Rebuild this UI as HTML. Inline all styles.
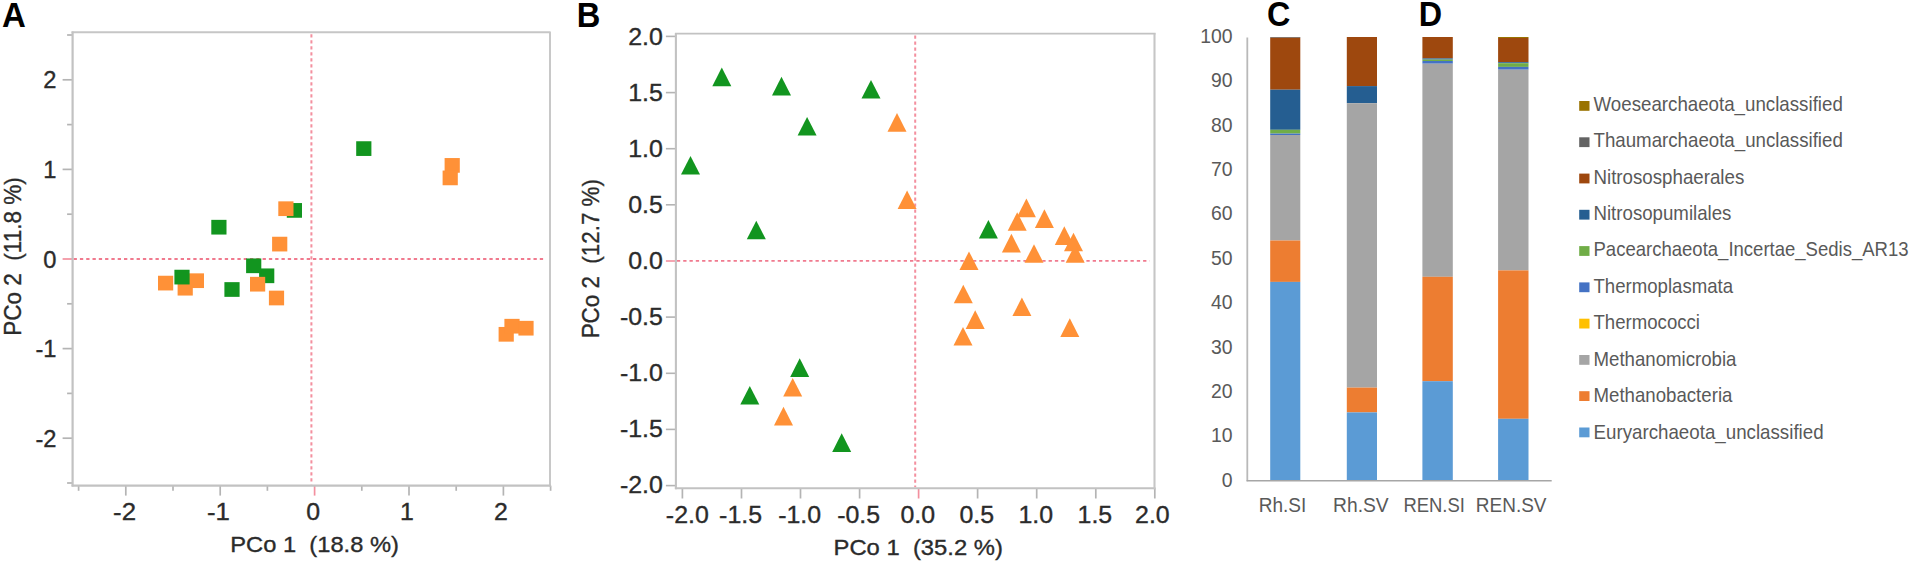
<!DOCTYPE html>
<html lang="en">
<head>
<meta charset="utf-8">
<title>PCoA and archaeal community composition</title>
<style>
html,body{margin:0;padding:0;background:#fff;}
body{width:1914px;height:563px;overflow:hidden;}
svg{display:block;font-family:'Liberation Sans', sans-serif;}
text{white-space:pre;}
</style>
</head>
<body>
<svg width="1914" height="563" viewBox="0 0 1914 563">
<rect width="1914" height="563" fill="#ffffff"/>
<text x="0" y="0" transform="translate(1.9 26.5) scale(0.96 1)" font-size="34.4" fill="#000" text-anchor="start" font-weight="bold">A</text>
<text x="0" y="0" transform="translate(576.7 26.6) scale(0.95 1)" font-size="34.4" fill="#000" text-anchor="start" font-weight="bold">B</text>
<text x="0" y="0" transform="translate(1266.9 26.0) scale(0.94 1)" font-size="34.4" fill="#000" text-anchor="start" font-weight="bold">C</text>
<text x="0" y="0" transform="translate(1418.8 26.0) scale(0.94 1)" font-size="34.4" fill="#000" text-anchor="start" font-weight="bold">D</text>
<line x1="78.6" y1="485.6" x2="78.6" y2="490.8" stroke="#b4b4b4" stroke-width="1.7"/>
<line x1="67.1" y1="483.0" x2="72.6" y2="483.0" stroke="#b4b4b4" stroke-width="1.7"/>
<line x1="125.8" y1="485.6" x2="125.8" y2="495.6" stroke="#b4b4b4" stroke-width="1.7"/>
<line x1="62.6" y1="438.2" x2="72.6" y2="438.2" stroke="#b4b4b4" stroke-width="1.7"/>
<line x1="173.0" y1="485.6" x2="173.0" y2="490.8" stroke="#b4b4b4" stroke-width="1.7"/>
<line x1="67.1" y1="393.4" x2="72.6" y2="393.4" stroke="#b4b4b4" stroke-width="1.7"/>
<line x1="220.2" y1="485.6" x2="220.2" y2="495.6" stroke="#b4b4b4" stroke-width="1.7"/>
<line x1="62.6" y1="348.6" x2="72.6" y2="348.6" stroke="#b4b4b4" stroke-width="1.7"/>
<line x1="267.4" y1="485.6" x2="267.4" y2="490.8" stroke="#b4b4b4" stroke-width="1.7"/>
<line x1="67.1" y1="303.8" x2="72.6" y2="303.8" stroke="#b4b4b4" stroke-width="1.7"/>
<line x1="314.6" y1="485.6" x2="314.6" y2="495.6" stroke="#f3909f" stroke-width="1.7"/>
<line x1="62.6" y1="259.0" x2="72.6" y2="259.0" stroke="#f3909f" stroke-width="1.7"/>
<line x1="361.8" y1="485.6" x2="361.8" y2="490.8" stroke="#b4b4b4" stroke-width="1.7"/>
<line x1="67.1" y1="214.2" x2="72.6" y2="214.2" stroke="#b4b4b4" stroke-width="1.7"/>
<line x1="409.0" y1="485.6" x2="409.0" y2="495.6" stroke="#b4b4b4" stroke-width="1.7"/>
<line x1="62.6" y1="169.4" x2="72.6" y2="169.4" stroke="#b4b4b4" stroke-width="1.7"/>
<line x1="456.2" y1="485.6" x2="456.2" y2="490.8" stroke="#b4b4b4" stroke-width="1.7"/>
<line x1="67.1" y1="124.6" x2="72.6" y2="124.6" stroke="#b4b4b4" stroke-width="1.7"/>
<line x1="503.4" y1="485.6" x2="503.4" y2="495.6" stroke="#b4b4b4" stroke-width="1.7"/>
<line x1="62.6" y1="79.8" x2="72.6" y2="79.8" stroke="#b4b4b4" stroke-width="1.7"/>
<line x1="550.6" y1="485.6" x2="550.6" y2="490.8" stroke="#b4b4b4" stroke-width="1.7"/>
<line x1="67.1" y1="35.0" x2="72.6" y2="35.0" stroke="#b4b4b4" stroke-width="1.7"/>
<line x1="311.4" y1="34.3" x2="311.4" y2="484.6" stroke="#f3909f" stroke-width="2" stroke-dasharray="3.1 2.9"/>
<line x1="73.6" y1="259.0" x2="545.5" y2="259.0" stroke="#f07a8e" stroke-width="1.8" stroke-dasharray="3.3 3"/>
<polyline points="71.6,32.3 550.0,32.3 550.0,486.6" fill="none" stroke="#c6c6c6" stroke-width="1.9" stroke-linejoin="round"/>
<line x1="72.6" y1="31.4" x2="72.6" y2="486.6" stroke="#c2c2c2" stroke-width="2.2"/>
<line x1="71.6" y1="485.6" x2="550.9" y2="485.6" stroke="#c2c2c2" stroke-width="2.1"/>
<rect x="356.20" y="141.25" width="15.2" height="14.7" fill="#12951f"/>
<rect x="286.80" y="203.05" width="15.2" height="14.7" fill="#12951f"/>
<rect x="278.30" y="201.35" width="15.2" height="14.7" fill="#ff9137"/>
<rect x="211.30" y="219.85" width="15.2" height="14.7" fill="#12951f"/>
<rect x="272.10" y="236.75" width="15.2" height="14.7" fill="#ff9137"/>
<rect x="259.10" y="268.45" width="15.2" height="14.7" fill="#12951f"/>
<rect x="246.10" y="258.45" width="15.2" height="14.7" fill="#12951f"/>
<rect x="250.00" y="276.85" width="15.2" height="14.7" fill="#ff9137"/>
<rect x="177.60" y="280.85" width="15.2" height="14.7" fill="#ff9137"/>
<rect x="158.00" y="275.75" width="15.2" height="14.7" fill="#ff9137"/>
<rect x="188.80" y="273.35" width="15.2" height="14.7" fill="#ff9137"/>
<rect x="174.40" y="269.75" width="15.2" height="14.7" fill="#12951f"/>
<rect x="224.40" y="282.15" width="15.2" height="14.7" fill="#12951f"/>
<rect x="268.90" y="290.65" width="15.2" height="14.7" fill="#ff9137"/>
<rect x="444.60" y="158.05" width="15.2" height="14.7" fill="#ff9137"/>
<rect x="442.60" y="170.55" width="15.2" height="14.7" fill="#ff9137"/>
<rect x="498.60" y="326.95" width="15.2" height="14.7" fill="#ff9137"/>
<rect x="504.40" y="318.85" width="15.2" height="14.7" fill="#ff9137"/>
<rect x="518.40" y="320.85" width="15.2" height="14.7" fill="#ff9137"/>
<text x="0" y="0" transform="translate(124.60000000000001 519.8) scale(1.09 1)" font-size="23.7" fill="#2b2b2b" text-anchor="middle" stroke="#2b2b2b" stroke-width="0.35">-2</text>
<text x="0" y="0" transform="translate(218.4 519.8) scale(1.09 1)" font-size="23.7" fill="#2b2b2b" text-anchor="middle" stroke="#2b2b2b" stroke-width="0.35">-1</text>
<text x="0" y="0" transform="translate(313.1 519.8) scale(1.05 1)" font-size="23.7" fill="#2b2b2b" text-anchor="middle" stroke="#2b2b2b" stroke-width="0.35">0</text>
<text x="0" y="0" transform="translate(406.8 519.8) scale(1.05 1)" font-size="23.7" fill="#2b2b2b" text-anchor="middle" stroke="#2b2b2b" stroke-width="0.35">1</text>
<text x="0" y="0" transform="translate(500.90000000000003 519.8) scale(1.05 1)" font-size="23.7" fill="#2b2b2b" text-anchor="middle" stroke="#2b2b2b" stroke-width="0.35">2</text>
<text x="56.5" y="446.8" font-size="23.7" fill="#2b2b2b" text-anchor="end" stroke="#2b2b2b" stroke-width="0.35">-2</text>
<text x="56.5" y="357.20000000000005" font-size="23.7" fill="#2b2b2b" text-anchor="end" stroke="#2b2b2b" stroke-width="0.35">-1</text>
<text x="56.5" y="267.6" font-size="23.7" fill="#2b2b2b" text-anchor="end" stroke="#2b2b2b" stroke-width="0.35">0</text>
<text x="56.5" y="178.0" font-size="23.7" fill="#2b2b2b" text-anchor="end" stroke="#2b2b2b" stroke-width="0.35">1</text>
<text x="56.5" y="88.4" font-size="23.7" fill="#2b2b2b" text-anchor="end" stroke="#2b2b2b" stroke-width="0.35">2</text>
<text x="230.3" y="552.4" font-size="22.9" fill="#2b2b2b" text-anchor="start" stroke="#2b2b2b" stroke-width="0.35" textLength="168.6" lengthAdjust="spacingAndGlyphs">PCo 1  (18.8 %)</text>
<text x="0" y="0" transform="translate(21.0 335.8) rotate(-90)" font-size="23.8" fill="#2b2b2b" text-anchor="start" stroke="#2b2b2b" stroke-width="0.35" textLength="158.6" lengthAdjust="spacingAndGlyphs">PCo 2  (11.8 %)</text>
<line x1="682.4" y1="488.3" x2="682.4" y2="498.5" stroke="#b4b4b4" stroke-width="1.7"/>
<line x1="665.9" y1="485.6" x2="675.9" y2="485.6" stroke="#b4b4b4" stroke-width="1.6"/>
<line x1="741.5" y1="488.3" x2="741.5" y2="498.5" stroke="#b4b4b4" stroke-width="1.7"/>
<line x1="665.9" y1="429.4" x2="675.9" y2="429.4" stroke="#b4b4b4" stroke-width="1.6"/>
<line x1="800.5" y1="488.3" x2="800.5" y2="498.5" stroke="#b4b4b4" stroke-width="1.7"/>
<line x1="665.9" y1="373.3" x2="675.9" y2="373.3" stroke="#b4b4b4" stroke-width="1.6"/>
<line x1="859.6" y1="488.3" x2="859.6" y2="498.5" stroke="#b4b4b4" stroke-width="1.7"/>
<line x1="665.9" y1="317.1" x2="675.9" y2="317.1" stroke="#b4b4b4" stroke-width="1.6"/>
<line x1="918.6" y1="488.3" x2="918.6" y2="498.5" stroke="#f3909f" stroke-width="1.7"/>
<line x1="665.9" y1="261.0" x2="675.9" y2="261.0" stroke="#f3909f" stroke-width="1.6"/>
<line x1="977.6" y1="488.3" x2="977.6" y2="498.5" stroke="#b4b4b4" stroke-width="1.7"/>
<line x1="665.9" y1="204.8" x2="675.9" y2="204.8" stroke="#b4b4b4" stroke-width="1.6"/>
<line x1="1036.7" y1="488.3" x2="1036.7" y2="498.5" stroke="#b4b4b4" stroke-width="1.7"/>
<line x1="665.9" y1="148.7" x2="675.9" y2="148.7" stroke="#b4b4b4" stroke-width="1.6"/>
<line x1="1095.8" y1="488.3" x2="1095.8" y2="498.5" stroke="#b4b4b4" stroke-width="1.7"/>
<line x1="665.9" y1="92.6" x2="675.9" y2="92.6" stroke="#b4b4b4" stroke-width="1.6"/>
<line x1="1154.8" y1="488.3" x2="1154.8" y2="498.5" stroke="#b4b4b4" stroke-width="1.7"/>
<line x1="665.9" y1="36.4" x2="675.9" y2="36.4" stroke="#b4b4b4" stroke-width="1.6"/>
<line x1="915.2" y1="35.6" x2="915.2" y2="487.3" stroke="#f3909f" stroke-width="2" stroke-dasharray="3.1 2.9"/>
<line x1="676.9" y1="260.9" x2="1149.6" y2="260.9" stroke="#f07a8e" stroke-width="1.9" stroke-dasharray="3.3 3"/>
<line x1="674.9" y1="33.6" x2="1155.6" y2="33.6" stroke="#c2c2c2" stroke-width="1.7"/>
<line x1="675.9" y1="33.6" x2="675.9" y2="489.3" stroke="#c2c2c2" stroke-width="2.1"/>
<line x1="674.9" y1="488.3" x2="1155.6" y2="488.3" stroke="#c2c2c2" stroke-width="2.1"/>
<line x1="1154.5" y1="33.6" x2="1154.5" y2="489.3" stroke="#c6c6c6" stroke-width="2.1"/>
<polygon points="721.8,67.6 731.3,86.2 712.3,86.2" fill="#12951f"/>
<polygon points="781.5,76.8 791.0,95.4 772.0,95.4" fill="#12951f"/>
<polygon points="871.0,80.0 880.5,98.6 861.5,98.6" fill="#12951f"/>
<polygon points="897.0,113.1 906.5,131.7 887.5,131.7" fill="#ff9137"/>
<polygon points="807.1,116.9 816.6,135.5 797.6,135.5" fill="#12951f"/>
<polygon points="690.5,156.0 700.0,174.6 681.0,174.6" fill="#12951f"/>
<polygon points="907.1,190.4 916.6,209.0 897.6,209.0" fill="#ff9137"/>
<polygon points="756.3,220.7 765.8,239.3 746.8,239.3" fill="#12951f"/>
<polygon points="988.4,219.9 997.9,238.5 978.9,238.5" fill="#12951f"/>
<polygon points="1026.4,198.6 1035.9,217.2 1016.9,217.2" fill="#ff9137"/>
<polygon points="1017.2,212.2 1026.7,230.8 1007.7,230.8" fill="#ff9137"/>
<polygon points="1044.4,209.3 1053.9,227.9 1034.9,227.9" fill="#ff9137"/>
<polygon points="1011.4,233.8 1020.9,252.4 1001.9,252.4" fill="#ff9137"/>
<polygon points="1064.3,226.3 1073.8,244.9 1054.8,244.9" fill="#ff9137"/>
<polygon points="1073.5,232.7 1083.0,251.3 1064.0,251.3" fill="#ff9137"/>
<polygon points="1075.2,244.2 1084.7,262.8 1065.7,262.8" fill="#ff9137"/>
<polygon points="1034.0,244.2 1043.5,262.8 1024.5,262.8" fill="#ff9137"/>
<polygon points="969.0,251.4 978.5,270.0 959.5,270.0" fill="#ff9137"/>
<polygon points="963.3,284.7 972.8,303.3 953.8,303.3" fill="#ff9137"/>
<polygon points="1021.9,297.5 1031.4,316.1 1012.4,316.1" fill="#ff9137"/>
<polygon points="975.2,310.3 984.7,328.9 965.7,328.9" fill="#ff9137"/>
<polygon points="963.0,326.9 972.5,345.5 953.5,345.5" fill="#ff9137"/>
<polygon points="1069.8,318.3 1079.3,336.9 1060.3,336.9" fill="#ff9137"/>
<polygon points="799.7,358.3 809.2,376.9 790.2,376.9" fill="#12951f"/>
<polygon points="792.7,377.9 802.2,396.5 783.2,396.5" fill="#ff9137"/>
<polygon points="749.8,386.0 759.3,404.6 740.3,404.6" fill="#12951f"/>
<polygon points="783.5,406.8 793.0,425.4 774.0,425.4" fill="#ff9137"/>
<polygon points="841.7,433.3 851.2,451.9 832.2,451.9" fill="#12951f"/>
<text x="0" y="0" transform="translate(687.3000000000001 522.9) scale(1.06 1)" font-size="23.5" fill="#2b2b2b" text-anchor="middle" stroke="#2b2b2b" stroke-width="0.35">-2.0</text>
<text x="0" y="0" transform="translate(662.8 493.09999999999997) scale(1.06 1)" font-size="23.5" fill="#2b2b2b" text-anchor="end" stroke="#2b2b2b" stroke-width="0.35">-2.0</text>
<text x="0" y="0" transform="translate(740.5500000000001 522.9) scale(1.06 1)" font-size="23.5" fill="#2b2b2b" text-anchor="middle" stroke="#2b2b2b" stroke-width="0.35">-1.5</text>
<text x="0" y="0" transform="translate(662.8 437.09999999999997) scale(1.06 1)" font-size="23.5" fill="#2b2b2b" text-anchor="end" stroke="#2b2b2b" stroke-width="0.35">-1.5</text>
<text x="0" y="0" transform="translate(799.6 522.9) scale(1.06 1)" font-size="23.5" fill="#2b2b2b" text-anchor="middle" stroke="#2b2b2b" stroke-width="0.35">-1.0</text>
<text x="0" y="0" transform="translate(662.8 381.09999999999997) scale(1.06 1)" font-size="23.5" fill="#2b2b2b" text-anchor="end" stroke="#2b2b2b" stroke-width="0.35">-1.0</text>
<text x="0" y="0" transform="translate(858.6500000000001 522.9) scale(1.06 1)" font-size="23.5" fill="#2b2b2b" text-anchor="middle" stroke="#2b2b2b" stroke-width="0.35">-0.5</text>
<text x="0" y="0" transform="translate(662.8 325.09999999999997) scale(1.06 1)" font-size="23.5" fill="#2b2b2b" text-anchor="end" stroke="#2b2b2b" stroke-width="0.35">-0.5</text>
<text x="0" y="0" transform="translate(917.7 522.9) scale(1.06 1)" font-size="23.5" fill="#2b2b2b" text-anchor="middle" stroke="#2b2b2b" stroke-width="0.35">0.0</text>
<text x="0" y="0" transform="translate(662.8 269.09999999999997) scale(1.06 1)" font-size="23.5" fill="#2b2b2b" text-anchor="end" stroke="#2b2b2b" stroke-width="0.35">0.0</text>
<text x="0" y="0" transform="translate(976.75 522.9) scale(1.06 1)" font-size="23.5" fill="#2b2b2b" text-anchor="middle" stroke="#2b2b2b" stroke-width="0.35">0.5</text>
<text x="0" y="0" transform="translate(662.8 213.1) scale(1.06 1)" font-size="23.5" fill="#2b2b2b" text-anchor="end" stroke="#2b2b2b" stroke-width="0.35">0.5</text>
<text x="0" y="0" transform="translate(1035.8 522.9) scale(1.06 1)" font-size="23.5" fill="#2b2b2b" text-anchor="middle" stroke="#2b2b2b" stroke-width="0.35">1.0</text>
<text x="0" y="0" transform="translate(662.8 157.1) scale(1.06 1)" font-size="23.5" fill="#2b2b2b" text-anchor="end" stroke="#2b2b2b" stroke-width="0.35">1.0</text>
<text x="0" y="0" transform="translate(1094.85 522.9) scale(1.06 1)" font-size="23.5" fill="#2b2b2b" text-anchor="middle" stroke="#2b2b2b" stroke-width="0.35">1.5</text>
<text x="0" y="0" transform="translate(662.8 101.1) scale(1.06 1)" font-size="23.5" fill="#2b2b2b" text-anchor="end" stroke="#2b2b2b" stroke-width="0.35">1.5</text>
<text x="0" y="0" transform="translate(1152.3999999999999 522.9) scale(1.06 1)" font-size="23.5" fill="#2b2b2b" text-anchor="middle" stroke="#2b2b2b" stroke-width="0.35">2.0</text>
<text x="0" y="0" transform="translate(662.8 45.09999999999999) scale(1.06 1)" font-size="23.5" fill="#2b2b2b" text-anchor="end" stroke="#2b2b2b" stroke-width="0.35">2.0</text>
<text x="833.5" y="555.4" font-size="22.9" fill="#2b2b2b" text-anchor="start" stroke="#2b2b2b" stroke-width="0.35" textLength="169.4" lengthAdjust="spacingAndGlyphs">PCo 1  (35.2 %)</text>
<text x="0" y="0" transform="translate(598.8 338.3) rotate(-90)" font-size="23.8" fill="#2b2b2b" text-anchor="start" stroke="#2b2b2b" stroke-width="0.35" textLength="159.2" lengthAdjust="spacingAndGlyphs">PCo 2  (12.7 %)</text>
<rect x="1270.2" y="37.0" width="30.1" height="0.8" fill="#636363"/>
<rect x="1270.2" y="37.8" width="30.1" height="51.9" fill="#9e480e"/>
<rect x="1270.2" y="89.7" width="30.1" height="40.1" fill="#255e91"/>
<rect x="1270.2" y="129.8" width="30.1" height="3.8" fill="#70ad47"/>
<rect x="1270.2" y="133.6" width="30.1" height="1.4" fill="#4472c4"/>
<rect x="1270.2" y="135.0" width="30.1" height="105.5" fill="#a5a5a5"/>
<rect x="1270.2" y="240.5" width="30.1" height="41.4" fill="#ed7d31"/>
<rect x="1270.2" y="281.9" width="30.1" height="198.9" fill="#5b9bd5"/>
<rect x="1346.8" y="37.0" width="30.2" height="49.1" fill="#9e480e"/>
<rect x="1346.8" y="86.1" width="30.2" height="17.1" fill="#255e91"/>
<rect x="1346.8" y="103.2" width="30.2" height="284.4" fill="#a5a5a5"/>
<rect x="1346.8" y="387.6" width="30.2" height="24.8" fill="#ed7d31"/>
<rect x="1346.8" y="412.4" width="30.2" height="68.4" fill="#5b9bd5"/>
<rect x="1422.4" y="37.0" width="30.4" height="21.4" fill="#9e480e"/>
<rect x="1422.4" y="58.4" width="30.4" height="1.2" fill="#255e91"/>
<rect x="1422.4" y="59.6" width="30.4" height="1.4" fill="#70ad47"/>
<rect x="1422.4" y="61.0" width="30.4" height="2.7" fill="#4472c4"/>
<rect x="1422.4" y="63.7" width="30.4" height="213.1" fill="#a5a5a5"/>
<rect x="1422.4" y="276.8" width="30.4" height="104.4" fill="#ed7d31"/>
<rect x="1422.4" y="381.2" width="30.4" height="99.6" fill="#5b9bd5"/>
<rect x="1498.1" y="37.0" width="30.4" height="1.0" fill="#997300"/>
<rect x="1498.1" y="38.0" width="30.4" height="24.2" fill="#9e480e"/>
<rect x="1498.1" y="62.2" width="30.4" height="1.0" fill="#255e91"/>
<rect x="1498.1" y="63.2" width="30.4" height="3.7" fill="#70ad47"/>
<rect x="1498.1" y="66.9" width="30.4" height="2.8" fill="#4472c4"/>
<rect x="1498.1" y="69.7" width="30.4" height="200.7" fill="#a5a5a5"/>
<rect x="1498.1" y="270.4" width="30.4" height="148.4" fill="#ed7d31"/>
<rect x="1498.1" y="418.8" width="30.4" height="62.0" fill="#5b9bd5"/>
<line x1="1247.3" y1="37.5" x2="1247.3" y2="481.3" stroke="#b9b9b9" stroke-width="1.8"/>
<line x1="1246.6" y1="480.8" x2="1551.7" y2="480.8" stroke="#a6a6a6" stroke-width="1.6"/>
<text x="1232.6" y="486.7" font-size="19.4" fill="#595959" text-anchor="end">0</text>
<text x="1232.6" y="442.32" font-size="19.4" fill="#595959" text-anchor="end">10</text>
<text x="1232.6" y="397.94" font-size="19.4" fill="#595959" text-anchor="end">20</text>
<text x="1232.6" y="353.56" font-size="19.4" fill="#595959" text-anchor="end">30</text>
<text x="1232.6" y="309.17999999999995" font-size="19.4" fill="#595959" text-anchor="end">40</text>
<text x="1232.6" y="264.79999999999995" font-size="19.4" fill="#595959" text-anchor="end">50</text>
<text x="1232.6" y="220.42000000000004" font-size="19.4" fill="#595959" text-anchor="end">60</text>
<text x="1232.6" y="176.04" font-size="19.4" fill="#595959" text-anchor="end">70</text>
<text x="1232.6" y="131.66" font-size="19.4" fill="#595959" text-anchor="end">80</text>
<text x="1232.6" y="87.28" font-size="19.4" fill="#595959" text-anchor="end">90</text>
<text x="1232.6" y="42.9" font-size="19.4" fill="#595959" text-anchor="end">100</text>
<text x="1258.7" y="512.0" font-size="21" fill="#595959" text-anchor="start" textLength="47.5" lengthAdjust="spacingAndGlyphs">Rh.SI</text>
<text x="1333.1000000000001" y="512.0" font-size="21" fill="#595959" text-anchor="start" textLength="55.6" lengthAdjust="spacingAndGlyphs">Rh.SV</text>
<text x="1403.4" y="512.0" font-size="21" fill="#595959" text-anchor="start" textLength="61.5" lengthAdjust="spacingAndGlyphs">REN.SI</text>
<text x="1475.8000000000002" y="512.0" font-size="21" fill="#595959" text-anchor="start" textLength="70.7" lengthAdjust="spacingAndGlyphs">REN.SV</text>
<rect x="1579.2" y="101.0" width="10.3" height="9.8" fill="#997300"/>
<text x="1593.5" y="110.6" font-size="20.3" fill="#595959" text-anchor="start" textLength="249.3" lengthAdjust="spacingAndGlyphs">Woesearchaeota_unclassified</text>
<rect x="1579.2" y="137.3" width="10.3" height="9.8" fill="#636363"/>
<text x="1593.5" y="147.06" font-size="20.3" fill="#595959" text-anchor="start" textLength="249.3" lengthAdjust="spacingAndGlyphs">Thaumarchaeota_unclassified</text>
<rect x="1579.2" y="173.6" width="10.3" height="9.8" fill="#9e480e"/>
<text x="1593.5" y="183.51999999999998" font-size="20.3" fill="#595959" text-anchor="start" textLength="150.8" lengthAdjust="spacingAndGlyphs">Nitrososphaerales</text>
<rect x="1579.2" y="209.8" width="10.3" height="9.8" fill="#255e91"/>
<text x="1593.5" y="219.98" font-size="20.3" fill="#595959" text-anchor="start" textLength="137.9" lengthAdjust="spacingAndGlyphs">Nitrosopumilales</text>
<rect x="1579.2" y="246.1" width="10.3" height="9.8" fill="#70ad47"/>
<text x="1593.5" y="256.44" font-size="20.3" fill="#595959" text-anchor="start" textLength="315.1" lengthAdjust="spacingAndGlyphs">Pacearchaeota_Incertae_Sedis_AR13</text>
<rect x="1579.2" y="282.4" width="10.3" height="9.8" fill="#4472c4"/>
<text x="1593.5" y="292.9" font-size="20.3" fill="#595959" text-anchor="start" textLength="139.6" lengthAdjust="spacingAndGlyphs">Thermoplasmata</text>
<rect x="1579.2" y="318.7" width="10.3" height="9.8" fill="#ffc000"/>
<text x="1593.5" y="329.36" font-size="20.3" fill="#595959" text-anchor="start" textLength="106.5" lengthAdjust="spacingAndGlyphs">Thermococci</text>
<rect x="1579.2" y="355.0" width="10.3" height="9.8" fill="#a5a5a5"/>
<text x="1593.5" y="365.82" font-size="20.3" fill="#595959" text-anchor="start" textLength="143.0" lengthAdjust="spacingAndGlyphs">Methanomicrobia</text>
<rect x="1579.2" y="391.2" width="10.3" height="9.8" fill="#ed7d31"/>
<text x="1593.5" y="402.28" font-size="20.3" fill="#595959" text-anchor="start" textLength="138.9" lengthAdjust="spacingAndGlyphs">Methanobacteria</text>
<rect x="1579.2" y="427.5" width="10.3" height="9.8" fill="#5b9bd5"/>
<text x="1593.5" y="438.74" font-size="20.3" fill="#595959" text-anchor="start" textLength="230.1" lengthAdjust="spacingAndGlyphs">Euryarchaeota_unclassified</text>
</svg>
</body>
</html>
